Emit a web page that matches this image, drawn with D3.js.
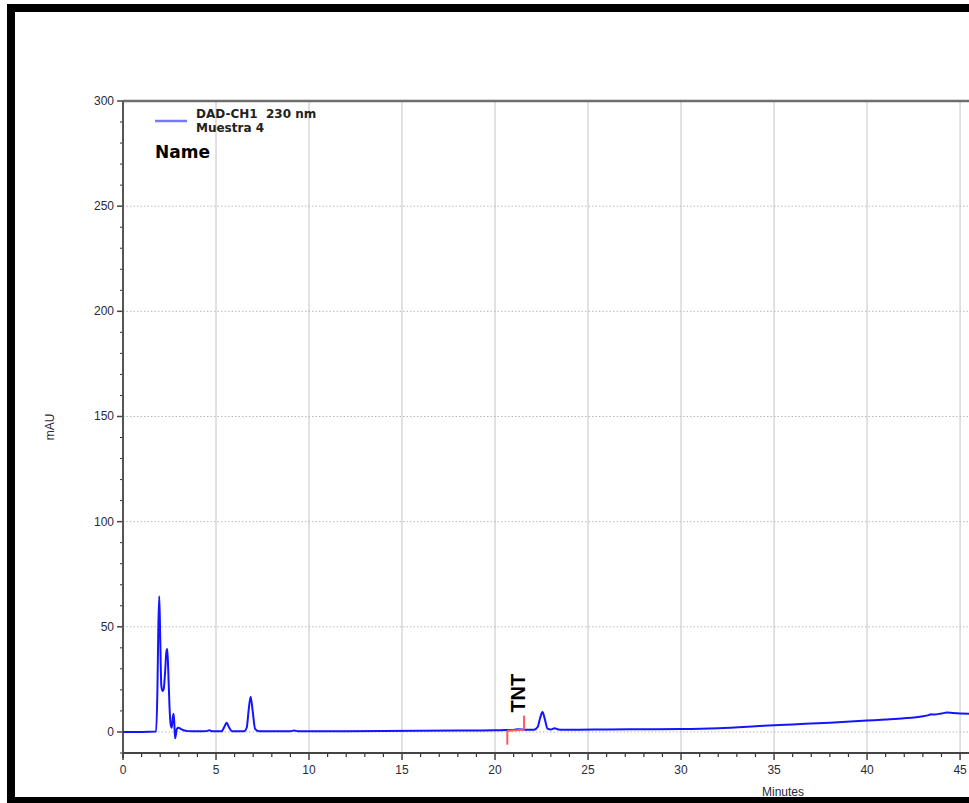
<!DOCTYPE html>
<html>
<head>
<meta charset="utf-8">
<script src="https://cdn.jsdelivr.net/npm/d3@7"></script>
<style>
  html, body { margin: 0; padding: 0; background: #fff; }
  svg { display: block; }
  text { font-family: "Liberation Sans", Arial, sans-serif; }
  text.legend { font-family: "DejaVu Sans", Verdana, sans-serif; }
</style>
</head>
<body>
<svg id="chart" width="969" height="803"></svg>
<script>
// DAD-CH1 230 nm trace, sample "Muestra 4"
const timeMin = [0, 1.0, 1.78, 1.85, 1.9, 1.95, 2.0, 2.06, 2.12, 2.18, 2.26, 2.33, 2.38, 2.43, 2.5, 2.57,
  2.62, 2.68, 2.72, 2.76, 2.8, 2.84, 2.9, 2.98, 3.1, 3.25, 3.5, 4.0, 4.5, 4.65, 4.8, 5.3, 5.45, 5.57,
  5.7, 5.85, 6.5, 6.65, 6.75, 6.86, 6.97, 7.1, 7.3, 8, 9, 9.2, 9.4, 10, 12, 14, 16, 18, 20, 20.6,
  20.9, 21.2, 21.5, 21.8, 22.1, 22.3, 22.42, 22.55, 22.68, 22.82, 23.0, 23.2, 23.4, 23.7, 24.5, 26,
  28, 30, 32, 34, 35, 36, 38, 40, 41, 42, 43, 43.3, 43.45, 43.6, 44, 44.3, 44.6, 45, 45.6];
const absorbance = [0, 0, 0.2, 20, 50, 64.5, 45, 22, 19.5, 20, 28, 38, 39.5, 30, 12, 3,
  2, 7, 8.7, 4, -3, -1.5, 1.5, 2, 1.5, 0.8, 0.4, 0.3, 0.4, 0.8, 0.3, 0.3, 2.5, 4.4,
  2.2, 0.4, 0.3, 2, 10, 16.8, 10, 1.5, 0.4, 0.3, 0.3, 0.7, 0.3, 0.3, 0.4, 0.5, 0.6, 0.7, 0.8, 0.9,
  0.9, 1.3, 1.2, 1.0, 1.1, 2.5, 6.5, 9.5, 6.0, 1.6, 1.2, 1.8, 1.2, 1.0, 1.1, 1.2,
  1.3, 1.4, 1.8, 2.7, 3.2, 3.6, 4.4, 5.4, 5.9, 6.5, 7.5, 8.0, 8.4, 8.3, 8.8, 9.2, 9.0, 8.8, 8.7];

// integration marks for the TNT peak (start, end of baseline, in minutes and mAU)
const tntStart = [20.66, 0.6];
const tntEnd = [21.56, 1.1];
const peakLabels = ["TNT"];

const yTicks = [0, 50, 100, 150, 200, 250, 300];
const xTicks = [0, 5, 10, 15, 20, 25, 30, 35, 40, 45];

const svg = d3.select("#chart");
const L = 123, R = 969, T = 101, B = 753;

const x = d3.scaleLinear().domain([0, 45.48]).range([L, R]);
const y = d3.scaleLinear().domain([-10, 300]).range([B, T]);

// frame
svg.append("rect").attr("x", 7).attr("y", 4).attr("width", 970).attr("height", 8).attr("fill", "#000");
svg.append("rect").attr("x", 7).attr("y", 4).attr("width", 8).attr("height", 800).attr("fill", "#000");
svg.append("rect").attr("x", 7).attr("y", 797).attr("width", 970).attr("height", 8).attr("fill", "#000");

// grid
const grid = svg.append("g");
grid.selectAll("line.v").data(xTicks.filter(d => d > 0)).join("line")
  .attr("x1", d => x(d)).attr("x2", d => x(d)).attr("y1", T).attr("y2", B)
  .attr("stroke", "#d8d8d8").attr("stroke-width", 1.5);
grid.selectAll("line.h").data(yTicks.filter(d => d < 300)).join("line")
  .attr("x1", L).attr("x2", R).attr("y1", d => y(d)).attr("y2", d => y(d))
  .attr("stroke", "#b8b8b8").attr("stroke-width", 1).attr("stroke-dasharray", "1.5,2");

// top frame line
svg.append("line").attr("x1", L).attr("x2", R).attr("y1", T).attr("y2", T)
  .attr("stroke", "#6e6e6e").attr("stroke-width", 2.5);

// y axis
const yMinor = d3.range(-10, 301, 10).filter(d => d % 50 !== 0);
const yAxis = svg.append("g");
yAxis.selectAll("line.minor").data(yMinor).join("line")
  .attr("x1", L - 3).attr("x2", L).attr("y1", d => y(d)).attr("y2", d => y(d))
  .attr("stroke", "#333").attr("stroke-width", 1);
yAxis.selectAll("line.major").data(yTicks).join("line")
  .attr("x1", L - 6).attr("x2", L).attr("y1", d => y(d)).attr("y2", d => y(d))
  .attr("stroke", "#444").attr("stroke-width", 1.5);
yAxis.selectAll("text").data(yTicks).join("text")
  .attr("x", L - 9).attr("y", d => y(d) + 4).attr("text-anchor", "end")
  .attr("font-size", 12).attr("fill", "#2a2a3a").text(d => d);
yAxis.append("line").attr("x1", L).attr("x2", L).attr("y1", T).attr("y2", B + 5)
  .attr("stroke", "#555").attr("stroke-width", 2);

// x axis
const xMinor = d3.range(1, 46, 1).filter(d => d % 5 !== 0);
const xAxis = svg.append("g");
xAxis.selectAll("line.minor").data(xMinor).join("line")
  .attr("x1", d => x(d)).attr("x2", d => x(d)).attr("y1", B).attr("y2", B + 4)
  .attr("stroke", "#333").attr("stroke-width", 1.2);
xAxis.selectAll("line.major").data(xTicks).join("line")
  .attr("x1", d => x(d)).attr("x2", d => x(d)).attr("y1", B).attr("y2", B + 7)
  .attr("stroke", "#444").attr("stroke-width", 1.5);
xAxis.selectAll("text").data(xTicks).join("text")
  .attr("x", d => x(d)).attr("y", B + 21).attr("text-anchor", "middle")
  .attr("font-size", 12).attr("fill", "#2a2a3a").text(d => d);
xAxis.append("line").attr("x1", L).attr("x2", R).attr("y1", B).attr("y2", B)
  .attr("stroke", "#444").attr("stroke-width", 2);

// axis titles
svg.append("text").attr("x", 783).attr("y", 796).attr("text-anchor", "middle")
  .attr("font-size", 12).attr("fill", "#2a2a3a").text("Minutes");
svg.append("text").attr("transform", "translate(54,427) rotate(-90)").attr("text-anchor", "middle")
  .attr("font-size", 12).attr("fill", "#2a2a3a").text("mAU");

// trace
svg.append("clipPath").attr("id", "plot").append("rect")
  .attr("x", L).attr("y", T).attr("width", R - L).attr("height", B - T);
const pts = timeMin.map((t, i) => [t, absorbance[i]]);
const line = d3.line().x(d => x(d[0])).y(d => y(d[1])).curve(d3.curveMonotoneX);
svg.append("path").datum(pts).attr("clip-path", "url(#plot)")
  .attr("d", line).attr("fill", "none").attr("stroke", "#1414ff").attr("stroke-width", 2)
  .attr("stroke-linejoin", "round");

// TNT integration baseline and markers
const red = "#ff5a5a";
const marks = svg.append("g").attr("stroke", red).attr("stroke-width", 2);
marks.append("line").attr("x1", x(tntStart[0])).attr("x2", x(tntEnd[0]))
  .attr("y1", y(tntStart[1])).attr("y2", y(tntEnd[1]));
marks.append("line").attr("x1", x(tntStart[0])).attr("x2", x(tntStart[0]))
  .attr("y1", y(tntStart[1])).attr("y2", y(tntStart[1]) + 14);
marks.append("line").attr("x1", x(tntEnd[0])).attr("x2", x(tntEnd[0]))
  .attr("y1", y(tntEnd[1])).attr("y2", y(tntEnd[1]) - 14);

svg.append("text").attr("transform", `translate(${x(21.15) + 9},${y(9.2)}) rotate(-90)`)
  .attr("font-size", 20).attr("font-weight", "bold").attr("fill", "#000").text(peakLabels[0]);

// legend
svg.append("line").attr("x1", 155).attr("x2", 187).attr("y1", 121).attr("y2", 121)
  .attr("stroke", "#7878ff").attr("stroke-width", 2.5);
svg.append("text").attr("class", "legend").attr("x", 196).attr("y", 118).attr("font-size", 12)
  .attr("font-weight", "bold").attr("fill", "#222").attr("xml:space", "preserve").text("DAD-CH1  230 nm");
svg.append("text").attr("class", "legend").attr("x", 196).attr("y", 132).attr("font-size", 12)
  .attr("font-weight", "bold").attr("fill", "#222").text("Muestra 4");
svg.append("text").attr("class", "legend").attr("x", 155).attr("y", 158).attr("font-size", 17)
  .attr("font-weight", "bold").attr("fill", "#000").text("Name");
</script>
</body>
</html>
